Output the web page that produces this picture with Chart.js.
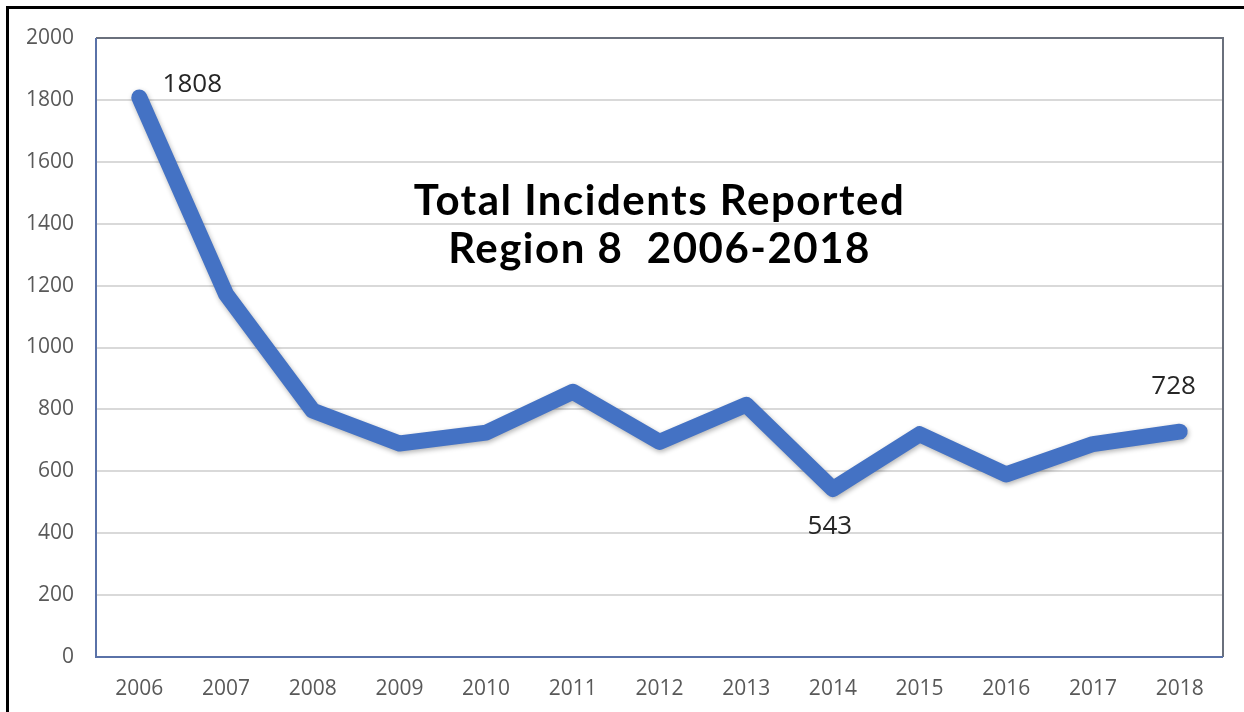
<!DOCTYPE html>
<html>
<head>
<meta charset="utf-8">
<script src="https://cdn.jsdelivr.net/npm/chart.js@4.4.1/dist/chart.umd.min.js"></script>
<style>
html,body{margin:0;padding:0;background:#fff;}
#wrap{position:relative;width:1244px;height:712px;overflow:hidden;}
#frame{position:absolute;left:6px;top:6px;width:1244px;height:720px;border-left:3px solid #000;border-top:3px solid #000;box-sizing:border-box;pointer-events:none;}
canvas{position:absolute;left:0;top:0;}
</style>
</head>
<body>
<div id="wrap">
<canvas id="c" width="1244" height="712"></canvas>
<div id="frame"></div>
</div>
<script>
const years = ['2006','2007','2008','2009','2010','2011','2012','2013','2014','2015','2016','2017','2018'];
const incidents = [1808, 1172, 796, 690, 725, 857, 695, 815, 543, 720, 590, 688, 728];
const yTicks = [0, 200, 400, 600, 800, 1000, 1200, 1400, 1600, 1800, 2000];
const titleLines = ['Total Incidents Reported', 'Region 8  2006-2018'];
const labeledIdx = [0, 8, 12];

const labelOffsets = {0:[53,-13], 8:[-3,38], 12:[-6,-45]};

const plotBorder = {
  id:'plotBorder',
  afterDraw(chart){
    const {ctx, chartArea:a} = chart;
    ctx.save();
    ctx.lineWidth = 2;
    ctx.strokeStyle = '#6a707c';
    ctx.beginPath();
    ctx.moveTo(a.left, a.top); ctx.lineTo(a.right, a.top); ctx.lineTo(a.right, a.bottom);
    ctx.stroke();
    ctx.strokeStyle = '#5a72a8';
    ctx.beginPath();
    ctx.moveTo(a.left, a.top); ctx.lineTo(a.left, a.bottom); ctx.lineTo(a.right, a.bottom);
    ctx.stroke();
    // title
    ctx.fillStyle = '#000';
    ctx.font = 'bold 42px Lato';
    if ('letterSpacing' in ctx) ctx.letterSpacing = '1.5px';
    ctx.textAlign = 'center';
    ctx.textBaseline = 'middle';
    const cx = (a.left + a.right)/2;
    ctx.fillText(titleLines[0], cx, 201);
    ctx.fillText(titleLines[1], cx, 249);
    if ('letterSpacing' in ctx) ctx.letterSpacing = '0px';
    // data labels
    const meta = chart.getDatasetMeta(0);
    ctx.font = '26px "Open Sans"';
    ctx.fillStyle = '#262626';
    labeledIdx.forEach(i => {
      const p = meta.data[i];
      const o = labelOffsets[i];
      ctx.fillText(String(incidents[i]), p.x + o[0], p.y + o[1]);
    });
    ctx.restore();
  }
};
const shadow = {
  id:'shadow',
  beforeDatasetDraw(chart){
    const ctx = chart.ctx; ctx.save();
    ctx.shadowColor = 'rgba(0,0,0,0.3)';
    ctx.shadowBlur = 5; ctx.shadowOffsetX = 1; ctx.shadowOffsetY = 2;
  },
  afterDatasetDraw(chart){ chart.ctx.restore(); }
};

new Chart(document.getElementById('c'), {
  type:'line',
  data:{labels:years, datasets:[{data:incidents, borderColor:'#4472c4', borderWidth:16, borderCapStyle:'round', borderJoinStyle:'round', pointRadius:0, tension:0, fill:false}]},
  options:{
    responsive:false, animation:false,
    layout:{padding:{left:0, top:38, right:21, bottom:0}},
    plugins:{legend:{display:false}, tooltip:{enabled:false}, title:{display:false}},
    scales:{
      x:{offset:true, grid:{display:false}, border:{display:false},
         ticks:{color:'#595959', font:{family:'Open Sans', size:21}, padding:11, maxRotation:0},
         afterFit(s){ s.height = 55; }},
      y:{min:0, max:2000, afterBuildTicks(s){ s.ticks = yTicks.map(v=>({value:v})); },
         grid:{color:'#d9d9d9', lineWidth:2, drawTicks:false}, border:{display:false},
         ticks:{color:'#595959', font:{family:'Open Sans', size:21}, padding:22, callback:(v)=>String(v)},
         afterFit(s){ s.width = 96; }}
    }
  },
  plugins:[shadow, plotBorder]
});
</script>
</body>
</html>
